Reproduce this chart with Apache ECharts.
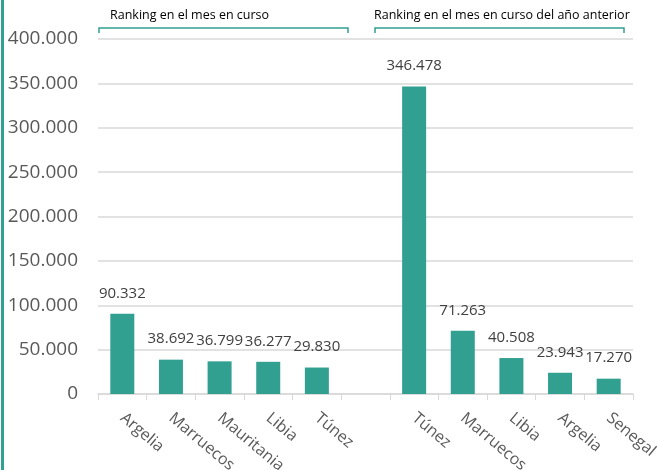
<!DOCTYPE html>
<html>
<head>
<meta charset="utf-8">
<script src="https://cdn.jsdelivr.net/npm/echarts@6/dist/echarts.min.js"></script>
<style>
  html, body { margin: 0; padding: 0; background: #fff; }
  #chart { width: 657px; height: 470px; }
</style>
</head>
<body>
<div id="chart"></div>
<script>
// categories: current month ranking, a gap, then same month of previous year
const categories = ['Argelia', 'Marruecos', 'Mauritania', 'Libia', 'Túnez', '', 'Túnez', 'Marruecos', 'Libia', 'Argelia', 'Senegal'];
const values = [90332, 38692, 36799, 36277, 29830, null, 346478, 71263, 40508, 23943, 17270];
const groupTitles = ['Ranking en el mes en curso', 'Ranking en el mes en curso del año anterior'];

const fmt = v => String(Math.round(v)).replace(/\B(?=(\d{3})+(?!\d))/g, '.');
const font = '"Open Sans", "Noto Sans", sans-serif';
const teal = '#31A091';

const chart = echarts.init(document.getElementById('chart'));
chart.setOption({
  animation: false,
  grid: { left: 98, right: 24, top: 39, bottom: 76, outerBoundsMode: 'none' },
  xAxis: {
    type: 'category',
    data: categories,
    axisLine: { lineStyle: { color: '#d9d9d9', width: 1.5 } },
    axisTick: { show: true, length: 6, lineStyle: { color: '#d9d9d9' } },
    axisLabel: {
      rotate: -40, interval: 0, color: '#595959', fontSize: 16, fontFamily: font,
      margin: 22
    }
  },
  yAxis: {
    type: 'value',
    min: 0, max: 400000, interval: 50000,
    axisLine: { show: false },
    axisTick: { show: false },
    splitLine: { lineStyle: { color: '#d9d9d9', width: 1.5 } },
    axisLabel: {
      color: '#595959', fontSize: 19, fontFamily: font, margin: 20,
      formatter: fmt
    }
  },
  series: [{
    type: 'bar',
    data: values,
    barWidth: 24,
    itemStyle: { color: teal },
    label: {
      show: true, position: 'top', distance: 13,
      color: '#404040', fontSize: 15, fontFamily: font,
      formatter: p => fmt(p.value)
    }
  }],
  graphic: [
    { type: 'rect', shape: { x: 1, y: 0, width: 3, height: 470 }, style: { fill: teal } },
    { type: 'polyline', shape: { points: [[99, 33], [99, 28], [348, 28], [348, 33]] },
      style: { stroke: teal, lineWidth: 1.5, fill: null } },
    { type: 'text', left: 110, top: 9,
      style: { text: groupTitles[0], fontSize: 12.5, fontFamily: font, fill: '#000' } },
    { type: 'polyline', shape: { points: [[375, 33], [375, 28], [624, 28], [624, 33]] },
      style: { stroke: teal, lineWidth: 1.5, fill: null } },
    { type: 'text', left: 374, top: 9,
      style: { text: groupTitles[1], fontSize: 12.5, fontFamily: font, fill: '#000' } }
  ]
});
</script>
</body>
</html>
